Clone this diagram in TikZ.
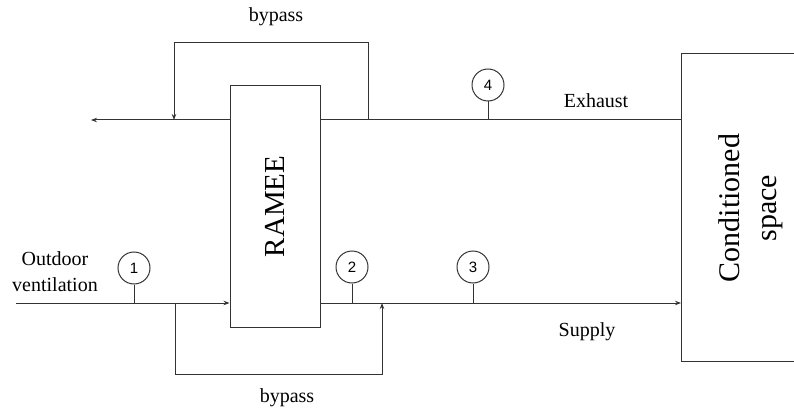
\documentclass[tikz,border=0pt]{standalone}
\usepackage{fontspec}
\setmainfont{Liberation Serif}
\newfontfamily\numfont{Liberation Sans}
\usetikzlibrary{arrows.meta}
\begin{document}
\begin{tikzpicture}[x=1pt,y=-1pt,
  line width=1pt, draw=black!80,
  flow/.style={draw=black!80, line width=1pt},
  arr/.style={flow, -{Stealth[length=6pt,width=4.5pt]}},
  unit/.style={draw=black!80, line width=1pt, fill=white, inner sep=0pt},
  sensor/.style={draw=black!80, line width=1pt, circle, minimum size=32pt, inner sep=0pt, font=\numfont\fontsize{15}{15}\selectfont},
  lbl/.style={font=\fontsize{20}{22}\selectfont, inner sep=0pt}]
\clip (0,0) rectangle (794,414);
\useasboundingbox (0,0) rectangle (794,414);
% levels
\coordinate (yEx) at (0,120);
\coordinate (ySu) at (0,303);
% units
\node[unit, minimum width=90pt, minimum height=241pt] (ramee) at (275,206.5) {};
\node[rotate=90, font=\fontsize{29}{30}\selectfont, inner sep=0pt] (rameetxt) at (ramee.center) {RAMEE};
\node[unit, minimum width=140pt, minimum height=308pt, anchor=north west] (cond) at (681,53) {};
\node[rotate=90, align=center, font=\fontsize{30}{37}\selectfont, inner sep=0pt] (condtxt) at (751,208) {Conditioned\\space};
% free ends
\coordinate (exOut) at (91,120);
\coordinate (inp) at (16,303);
\coordinate (bt1) at (368,120);
\coordinate (btc) at (174,43);
\coordinate (bt3) at (174,120);
\coordinate (bb1) at (175,303);
\coordinate (bbc) at (382,374);
\coordinate (bb3) at (382,303);
% exhaust
\draw[flow] (cond.west |- yEx) -- (ramee.east |- yEx);
\draw[arr] (ramee.west |- yEx) -- (exOut);
\draw[arr] (bt1) |- (btc) -- (bt3);
% supply
\draw[arr] (inp) -- (ramee.west |- ySu);
\draw[arr] (ramee.east |- ySu) -- (cond.west |- ySu);
\draw[arr] (bb1) |- (bbc) -- (bb3);
% sensors
\node[sensor] (s1) at (134,268) {1};
\node[sensor] (s2) at (352,267) {2};
\node[sensor] (s3) at (473,267) {3};
\node[sensor] (s4) at (488,85) {4};
\draw[flow] (s1.south) -- (s1.south |- ySu);
\draw[flow] (s2.south) -- (s2.south |- ySu);
\draw[flow] (s3.south) -- (s3.south |- ySu);
\draw[flow] (s4.south) -- (s4.south |- yEx);
% labels
\node[lbl] (lbypT) at (276,17) {bypass};
\node[lbl] (lbypB) at (287,398) {bypass};
\node[lbl, anchor=base] (lex) at (596,108) {Exhaust};
\node[lbl, anchor=base] (lsu) at (587,336) {Supply};
\node[lbl, align=center, font=\fontsize{20}{26}\selectfont] (lout) at (55,272) {Outdoor\\ventilation};
\end{tikzpicture}
\end{document}
